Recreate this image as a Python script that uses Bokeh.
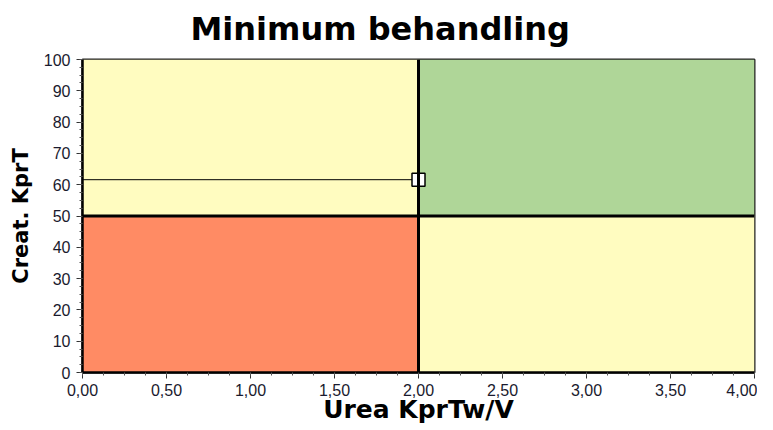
from bokeh.plotting import figure
from bokeh.models import Range1d, SingleIntervalTicker, CustomJSTickFormatter, Span
from bokeh.embed import file_html
from bokeh.resources import INLINE

# Quadrant zones
zone_left = [0.0, 0.0, 2.0, 2.0]
zone_right = [2.0, 2.0, 4.0, 4.0]
zone_bottom = [0, 50, 50, 0]
zone_top = [50, 100, 100, 50]
zone_colors = ["#FF8B64", "#FFFCC0", "#AFD698", "#FFFCC0"]

# Thresholds
urea_threshold = 2.0
creat_threshold = 50

# Measured point
urea_value = [2.0]
creat_value = [61.6]

p = figure(width=757, height=426, output_backend="svg", toolbar_location=None,
           x_range=Range1d(0, 4), y_range=Range1d(0, 100),
           min_border_left=82, min_border_right=3, min_border_top=59, min_border_bottom=30,
           title="Minimum behandling")
p.background_fill_color = "white"
p.border_fill_color = "white"
p.grid.visible = False
p.outline_line_color = "#222222"
p.outline_line_width = 2

p.title.text_font = "DejaVu Sans"
p.title.text_font_style = "bold"
p.title.text_font_size = "32px"
p.title.text_color = "black"
p.title.align = "left"
p.title.vertical_align = "top"
p.title.offset = 108
p.title.standoff = 19

p.quad(left=zone_left, right=zone_right, bottom=zone_bottom, top=zone_top,
       fill_color=zone_colors, line_color=None)

p.add_layout(Span(location=urea_threshold, dimension="height", line_color="black", line_width=3))
p.add_layout(Span(location=creat_threshold, dimension="width", line_color="black", line_width=3))

p.segment(x0=[0.0], y0=creat_value, x1=urea_value, y1=creat_value, line_color="black", line_width=1)
p.scatter(urea_value, creat_value, marker="square", size=13, fill_color="white",
          line_color="black", line_width=1.5)

p.xaxis.ticker = SingleIntervalTicker(interval=0.5, num_minor_ticks=4)
p.yaxis.ticker = SingleIntervalTicker(interval=10, num_minor_ticks=4)
p.xaxis.formatter = CustomJSTickFormatter(code="return tick.toFixed(2).replace('.', ',');")

for ax in (p.xaxis, p.yaxis):
    ax.axis_line_color = "black"
    ax.axis_line_width = 2.5
    ax.major_tick_line_color = "#333333"
    ax.minor_tick_line_color = "#555555"
    ax.major_tick_in = 0
    ax.major_tick_out = 6
    ax.minor_tick_in = 0
    ax.minor_tick_out = 3
    ax.major_label_text_font = "Liberation Sans"
    ax.major_label_text_font_size = "16px"
    ax.major_label_text_color = "#1a1a2e"
    ax.axis_label_text_font = "DejaVu Sans"
    ax.axis_label_text_font_style = "bold"
    ax.axis_label_text_color = "black"

p.xaxis.axis_label = "Urea KprTw/V"
p.xaxis.axis_label_text_font_size = "25px"
p.xaxis.major_label_standoff = 5
p.xaxis.axis_label_standoff = -4
p.yaxis.axis_label = "Creat. KprT"
p.yaxis.axis_label_text_font_size = "21px"
p.yaxis.major_label_standoff = 6
p.yaxis.axis_label_standoff = 8

open("out.html", "w").write(file_html(p, INLINE))
